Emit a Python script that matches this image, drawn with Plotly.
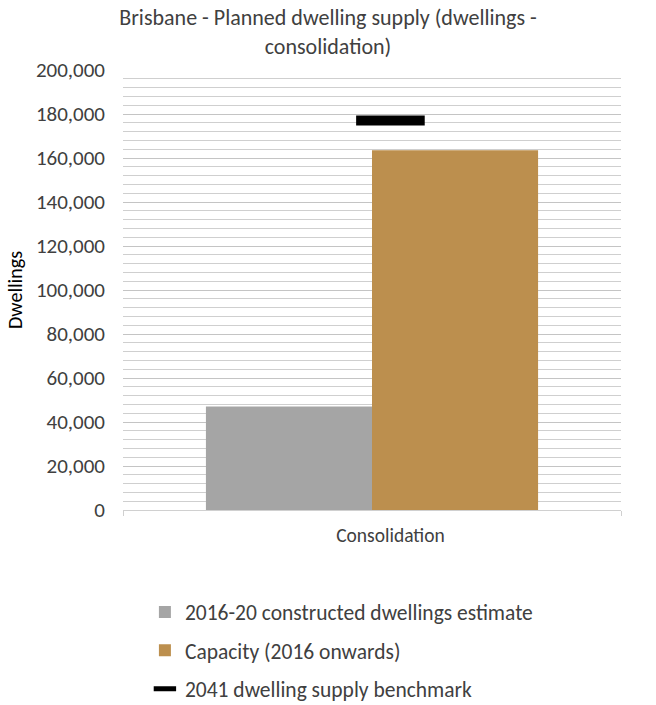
import plotly.graph_objects as go

categories = ["Consolidation"]
constructed = [47000]
capacity = [163500]
benchmark = [177000]

series_names = ["2016-20 constructed dwellings estimate", "Capacity (2016 onwards)", "2041 dwelling supply benchmark"]
y_ticks = [0, 20000, 40000, 60000, 80000, 100000, 120000, 140000, 160000, 180000, 200000]

FONT = "Calibri, Carlito, Liberation Sans, Arial, sans-serif"

fig = go.Figure()
fig.add_trace(go.Bar(x=categories, y=constructed, name=series_names[0],
                     marker=dict(color="#A5A5A5", line=dict(width=0)), legendgroup="a"))
fig.add_trace(go.Bar(x=categories, y=capacity, name=series_names[1],
                     marker=dict(color="#BC8F4E", line=dict(width=0)), legendgroup="b"))
fig.add_trace(go.Scatter(x=categories, y=benchmark, name=series_names[2], mode="markers",
                         xaxis="x2", legendgroup="c",
                         marker=dict(symbol="line-ew", size=49, color="black",
                                     line=dict(color="black", width=10))))

fig.update_layout(
    width=656, height=705,
    margin=dict(l=123, r=35, t=70, b=195, autoexpand=False),
    paper_bgcolor="white", plot_bgcolor="white",
    font=dict(family=FONT, size=15, color="#404040"),
    title=dict(text="Brisbane - Planned dwelling supply (dwellings -<br>consolidation)",
               x=0.5, xanchor="center", y=0.964, yanchor="top",
               font=dict(family=FONT, size=22, color="#404040")),
    barmode="group", bargap=0.333, bargroupgap=0,
    showlegend=True,
    legend=dict(orientation="v", x=0.044, xanchor="left", y=-0.185, yanchor="top",
                font=dict(family=FONT, size=21.5, color="#404040"),
                tracegroupgap=7.5, traceorder="grouped"),
    xaxis=dict(type="category", range=[-0.5, 0.5], showline=True, linecolor="#D0D0D0", linewidth=1,
               ticks="outside", tickson="boundaries", ticklen=5, tickcolor="#D0D0D0",
               showgrid=False, showticklabels=False, automargin=False),
    xaxis2=dict(type="category", overlaying="x", side="bottom", anchor="y", automargin=False,
                range=[-0.537, 0.463], showline=False, showgrid=False, ticks="",
                ticklabelstandoff=11, tickfont=dict(size=19.5, color="#404040")),
    yaxis=dict(range=[0, 200000], tickvals=y_ticks, tickformat=",", showgrid=True,
               gridcolor="#C4C4C4", gridwidth=1, zeroline=False, showline=False, automargin=False,
               ticks="", ticklabelstandoff=17, tickfont=dict(size=21, color="#404040"),
               title=dict(text="Dwellings", font=dict(size=20, color="#000000"), standoff=7),
               minor=dict(dtick=4000, showgrid=True, gridcolor="#CFCFCF", gridwidth=1)),
)

fig.write_html("out.html")
